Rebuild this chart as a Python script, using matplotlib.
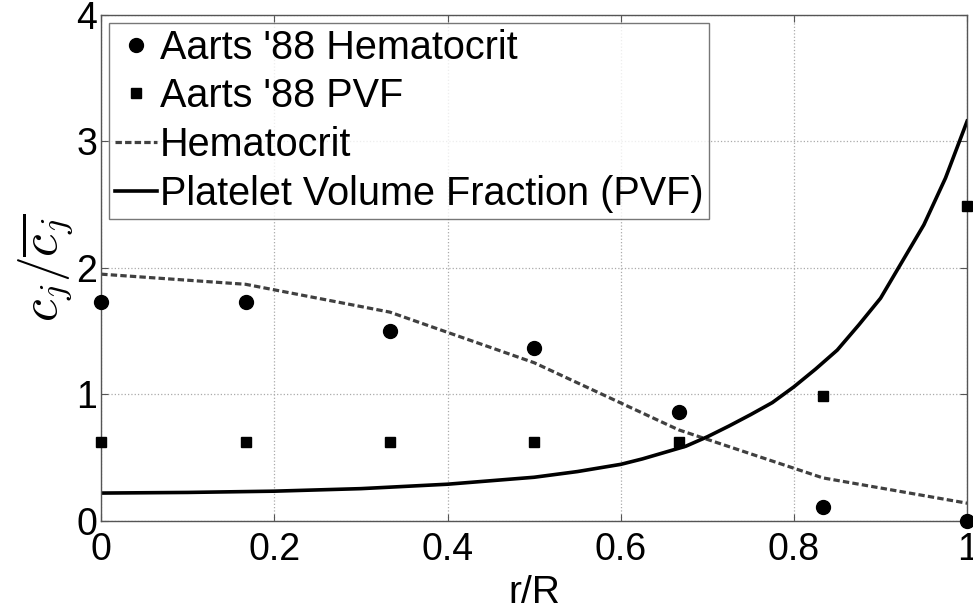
import numpy as np
import matplotlib
matplotlib.use("Agg")
import matplotlib.pyplot as plt

# Aarts '88 measurements
r_data = [0.0, 1/6, 1/3, 0.5, 2/3, 5/6, 1.0]
hct_data = [1.73, 1.73, 1.50, 1.37, 0.86, 0.11, 0.0]
pvf_data = [0.62, 0.62, 0.62, 0.62, 0.62, 0.99, 2.49]

# model: hematocrit (dashed)
r_hct = [0.0, 1/6, 1/3, 0.5, 2/3, 5/6, 1.0]
hct_model = [1.95, 1.87, 1.65, 1.25, 0.72, 0.34, 0.14]

# model: platelet volume fraction (solid)
r_pvf = [0.0, 0.1, 0.2, 0.3, 0.4, 0.5, 0.55, 0.6, 0.625, 0.65, 0.675, 0.7,
         0.725, 0.75, 0.775, 0.8, 0.825, 0.85, 0.875, 0.9, 0.925, 0.95,
         0.975, 1.0]
pvf_model = [0.22, 0.225, 0.235, 0.255, 0.29, 0.345, 0.39, 0.447, 0.49, 0.54,
             0.59, 0.665, 0.75, 0.84, 0.935, 1.06, 1.20, 1.35, 1.55, 1.76,
             2.05, 2.34, 2.71, 3.16]

xticks = [0, 0.2, 0.4, 0.6, 0.8, 1]
xticklabels = ["0", "0.2", "0.4", "0.6", "0.8", "1"]
yticks = [0, 1, 2, 3, 4]

plt.rcParams["font.family"] = ["Liberation Sans", "DejaVu Sans"]
plt.rcParams["mathtext.fontset"] = "cm"

fig = plt.figure(figsize=(9.73, 6.15), dpi=100)
ax = fig.add_axes([0.104, 0.153, 0.890, 0.823])

ax.plot(r_data, hct_data, "o", color="black", ms=10, label="Aarts '88 Hematocrit", clip_on=False, zorder=5)
ax.plot(r_data, pvf_data, "s", color="black", ms=7, label="Aarts '88 PVF", clip_on=False, zorder=5)
ax.plot(r_hct, hct_model, "--", color="#404040", lw=2.3, dashes=(2, 1), label="Hematocrit")
ax.plot(r_pvf, pvf_model, "-", color="black", lw=2.6, label="Platelet Volume Fraction (PVF)")

ax.set_xlim(0, 1)
ax.set_ylim(0, 4)
ax.set_xticks(xticks)
ax.set_xticklabels(xticklabels)
ax.set_yticks(yticks)
ax.tick_params(direction="in", labelsize=27, top=True, right=True, length=5,
               color="#555555")
ax.tick_params(axis="x", pad=8)
ax.tick_params(axis="y", pad=3)
for s in ax.spines.values():
    s.set_color("#555555")
    s.set_linewidth(1.0)
ax.grid(True, linestyle=":", color="#aaaaaa", lw=0.9)

ax.set_xlabel("r/R", fontsize=28, labelpad=5)
ax.set_ylabel(r"$c_j/\overline{c_j}$", fontsize=37, labelpad=0)

leg = ax.legend(loc="upper left", fontsize=28.5, frameon=True, fancybox=False,
                edgecolor="#555555", handlelength=1.05, handletextpad=0.08,
                borderaxespad=0.2, borderpad=0.15, labelspacing=0.27)
leg.get_frame().set_linewidth(1.0)

fig.savefig("out.png", dpi=100)
